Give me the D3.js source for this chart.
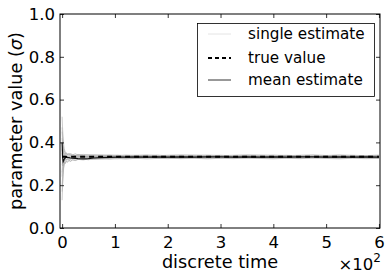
<!DOCTYPE html>
<html lang="en">
<head>
<meta charset="UTF-8">
<title>Parameter estimate</title>
<script src="https://d3js.org/d3.v7.min.js"></script>
<style>
  body { margin: 0; background: #fff; }
  text { font-family: "DejaVu Sans", sans-serif; fill: #000; }
</style>
</head>
<body>
<div id="chart"></div>
<script>
// time steps at which the estimates are read
const timeSteps = [0, 1, 2, 3, 4, 6, 8, 10, 13, 16, 20, 25, 30, 40, 50, 60, 75, 90, 105, 120,
  140, 160, 180, 200, 225, 250, 275, 300, 325, 350, 375, 400, 425, 450, 475, 500, 525, 550, 575, 600];

// single estimates (several runs)
const singleEstimates = [
  [0.52, 0.46, 0.42, 0.39, 0.37, 0.355, 0.348, 0.342, 0.346, 0.340, 0.338, 0.336, 0.341, 0.336, 0.333, 0.338, 0.331, 0.336, 0.334, 0.331,
   0.337, 0.333, 0.335, 0.332, 0.336, 0.334, 0.331, 0.335, 0.333, 0.337, 0.332, 0.334, 0.336, 0.331, 0.335, 0.333, 0.334, 0.332, 0.336, 0.333],
  [0.13, 0.20, 0.25, 0.28, 0.30, 0.31, 0.315, 0.320, 0.318, 0.322, 0.325, 0.323, 0.327, 0.326, 0.329, 0.327, 0.330, 0.328, 0.331, 0.329,
   0.330, 0.328, 0.332, 0.330, 0.328, 0.331, 0.330, 0.329, 0.332, 0.330, 0.328, 0.331, 0.330, 0.332, 0.329, 0.331, 0.330, 0.332, 0.329, 0.331],
  [0.47, 0.43, 0.40, 0.37, 0.36, 0.35, 0.34, 0.345, 0.338, 0.342, 0.336, 0.340, 0.335, 0.339, 0.336, 0.334, 0.338, 0.335, 0.337, 0.333,
   0.336, 0.338, 0.334, 0.337, 0.335, 0.333, 0.337, 0.336, 0.334, 0.338, 0.335, 0.333, 0.336, 0.338, 0.334, 0.336, 0.337, 0.334, 0.335, 0.337],
  [0.20, 0.24, 0.27, 0.29, 0.30, 0.305, 0.31, 0.308, 0.315, 0.312, 0.318, 0.316, 0.320, 0.322, 0.319, 0.324, 0.322, 0.326, 0.323, 0.327,
   0.325, 0.328, 0.326, 0.324, 0.328, 0.327, 0.325, 0.329, 0.326, 0.328, 0.327, 0.325, 0.328, 0.326, 0.329, 0.327, 0.325, 0.328, 0.327, 0.326],
  [0.42, 0.38, 0.36, 0.35, 0.345, 0.34, 0.348, 0.343, 0.350, 0.345, 0.342, 0.347, 0.341, 0.344, 0.340, 0.343, 0.339, 0.342, 0.338, 0.341,
   0.339, 0.342, 0.338, 0.340, 0.342, 0.339, 0.341, 0.338, 0.340, 0.342, 0.339, 0.341, 0.338, 0.340, 0.342, 0.339, 0.341, 0.340, 0.338, 0.341],
  [0.26, 0.28, 0.30, 0.31, 0.32, 0.315, 0.322, 0.318, 0.325, 0.321, 0.326, 0.322, 0.327, 0.324, 0.328, 0.325, 0.329, 0.326, 0.330, 0.327,
   0.329, 0.331, 0.328, 0.330, 0.327, 0.330, 0.332, 0.329, 0.331, 0.328, 0.330, 0.332, 0.329, 0.331, 0.328, 0.331, 0.329, 0.332, 0.330, 0.328],
  [0.37, 0.35, 0.34, 0.33, 0.34, 0.335, 0.33, 0.336, 0.331, 0.337, 0.333, 0.338, 0.334, 0.331, 0.336, 0.333, 0.337, 0.334, 0.332, 0.336,
   0.334, 0.331, 0.335, 0.333, 0.336, 0.332, 0.334, 0.337, 0.333, 0.335, 0.331, 0.334, 0.336, 0.333, 0.331, 0.335, 0.333, 0.336, 0.334, 0.332],
  [0.30, 0.29, 0.31, 0.32, 0.31, 0.325, 0.318, 0.327, 0.321, 0.329, 0.324, 0.330, 0.326, 0.332, 0.328, 0.331, 0.327, 0.333, 0.329, 0.332,
   0.330, 0.333, 0.331, 0.329, 0.333, 0.330, 0.332, 0.334, 0.330, 0.333, 0.331, 0.329, 0.333, 0.331, 0.334, 0.330, 0.332, 0.331, 0.333, 0.330],
  [0.45, 0.40, 0.37, 0.355, 0.35, 0.345, 0.352, 0.346, 0.341, 0.347, 0.343, 0.339, 0.344, 0.340, 0.343, 0.339, 0.342, 0.338, 0.341, 0.337,
   0.340, 0.338, 0.341, 0.337, 0.339, 0.341, 0.338, 0.340, 0.337, 0.339, 0.341, 0.338, 0.340, 0.337, 0.339, 0.338, 0.340, 0.337, 0.339, 0.338],
  [0.17, 0.22, 0.26, 0.29, 0.31, 0.30, 0.312, 0.308, 0.316, 0.312, 0.319, 0.315, 0.321, 0.318, 0.323, 0.320, 0.324, 0.321, 0.325, 0.322,
   0.326, 0.323, 0.325, 0.327, 0.324, 0.326, 0.323, 0.326, 0.324, 0.327, 0.325, 0.323, 0.326, 0.324, 0.327, 0.325, 0.323, 0.326, 0.324, 0.325],
  [0.35, 0.31, 0.29, 0.30, 0.32, 0.34, 0.33, 0.338, 0.329, 0.335, 0.327, 0.333, 0.339, 0.329, 0.335, 0.330, 0.336, 0.328, 0.334, 0.330,
   0.335, 0.329, 0.336, 0.331, 0.328, 0.335, 0.330, 0.336, 0.329, 0.334, 0.330, 0.336, 0.328, 0.334, 0.331, 0.336, 0.329, 0.335, 0.330, 0.334],
  [0.24, 0.33, 0.38, 0.36, 0.34, 0.32, 0.335, 0.325, 0.332, 0.326, 0.334, 0.328, 0.331, 0.337, 0.330, 0.326, 0.333, 0.338, 0.331, 0.327,
   0.333, 0.337, 0.330, 0.335, 0.329, 0.337, 0.331, 0.327, 0.334, 0.338, 0.330, 0.333, 0.337, 0.329, 0.335, 0.331, 0.337, 0.330, 0.334, 0.336]
];

const meanEstimate = [0.40, 0.33, 0.31, 0.315, 0.322, 0.328, 0.331, 0.330, 0.329, 0.327, 0.326, 0.325, 0.324, 0.323, 0.324, 0.327, 0.329, 0.330, 0.331, 0.331,
  0.332, 0.331, 0.332, 0.331, 0.332, 0.331, 0.332, 0.332, 0.331, 0.332, 0.331, 0.332, 0.331, 0.332, 0.332, 0.331, 0.332, 0.331, 0.332, 0.331];

const trueValue = 0.333;

const xTicks = [0, 100, 200, 300, 400, 500, 600];
const yTicks = [0.0, 0.2, 0.4, 0.6, 0.8, 1.0];
const legendLabels = ["single estimate", "true value", "mean estimate"];

const W = 391, H = 277;
const mLeft = 60, mRight = 380, mTop = 14, mBottom = 228;

const svg = d3.select("#chart").append("svg")
  .attr("width", W).attr("height", H);

const x = d3.scaleLinear().domain([-4, 602]).range([mLeft, mRight]);
const y = d3.scaleLinear().domain([0, 1]).range([mBottom, mTop]);

svg.append("clipPath").attr("id", "plotclip")
  .append("rect").attr("x", mLeft).attr("y", mTop)
  .attr("width", mRight - mLeft).attr("height", mBottom - mTop);

const plot = svg.append("g").attr("clip-path", "url(#plotclip)");

const line = d3.line()
  .x((d, i) => x(timeSteps[i]))
  .y(d => y(d));

plot.selectAll("path.single")
  .data(singleEstimates)
  .enter().append("path")
  .attr("class", "single")
  .attr("d", line)
  .attr("fill", "none")
  .attr("stroke", "#aaaaaa")
  .attr("stroke-opacity", 0.6)
  .attr("stroke-width", 1);

plot.append("path")
  .attr("d", line(meanEstimate))
  .attr("fill", "none")
  .attr("stroke", "#111")
  .attr("stroke-width", 1.2);

plot.append("path")
  .attr("d", line(timeSteps.map(() => trueValue)))
  .attr("fill", "none")
  .attr("stroke", "#000")
  .attr("stroke-width", 2)
  .attr("stroke-dasharray", "5,4");

// axes, ticks inward on all four sides
const tickLen = 4;
const axB = svg.append("g").attr("transform", `translate(0,${mBottom})`)
  .call(d3.axisBottom(x).tickValues(xTicks).tickSize(-tickLen).tickPadding(6)
    .tickFormat(d => d / 100));
const axT = svg.append("g").attr("transform", `translate(0,${mTop})`)
  .call(d3.axisTop(x).tickValues(xTicks).tickSize(-tickLen).tickFormat(""));
const axL = svg.append("g").attr("transform", `translate(${mLeft},0)`)
  .call(d3.axisLeft(y).tickValues(yTicks).tickSize(-tickLen).tickPadding(5)
    .tickFormat(d3.format(".1f")));
const axR = svg.append("g").attr("transform", `translate(${mRight},0)`)
  .call(d3.axisRight(y).tickValues(yTicks).tickSize(-tickLen).tickFormat(""));

[axB, axT, axL, axR].forEach(a => {
  a.select(".domain").remove();
  a.selectAll(".tick line").attr("stroke", "#000").attr("stroke-width", 0.8);
  a.selectAll("text").style("font-family", "DejaVu Sans").style("font-size", "16.5px");
});
axB.selectAll("text").attr("dy", "0.85em");

svg.append("rect").attr("x", mLeft).attr("y", mTop)
  .attr("width", mRight - mLeft).attr("height", mBottom - mTop)
  .attr("fill", "none").attr("stroke", "#000").attr("stroke-width", 1);

// axis labels
svg.append("text")
  .attr("x", (mLeft + mRight) / 2).attr("y", 268)
  .attr("text-anchor", "middle")
  .style("font-size", "17.7px")
  .text("discrete time");

const ylab = svg.append("text")
  .attr("transform", `translate(22,${(mTop + mBottom) / 2}) rotate(-90)`)
  .attr("text-anchor", "middle")
  .style("font-size", "17.7px");
ylab.append("tspan").text("parameter value (");
ylab.append("tspan").style("font-style", "italic").text("σ");
ylab.append("tspan").text(")");

const mult = svg.append("text")
  .attr("x", 381).attr("y", 270)
  .attr("text-anchor", "end")
  .style("font-size", "16.5px");
mult.append("tspan").text("×10");
mult.append("tspan").attr("dy", -8).style("font-size", "12px").text("2");

// legend
const lg = svg.append("g");
lg.append("rect").attr("x", 197.5).attr("y", 23.5).attr("width", 177).attr("height", 73)
  .attr("fill", "#fff").attr("stroke", "#000").attr("stroke-width", 0.8);
const rows = [
  { y: 34, stroke: "#e4e4e4", w: 1, dash: null },
  { y: 58, stroke: "#000", w: 2, dash: "4,3" },
  { y: 80, stroke: "#333", w: 1, dash: null }
];
rows.forEach((r, i) => {
  lg.append("line").attr("x1", 208).attr("x2", 231).attr("y1", r.y).attr("y2", r.y)
    .attr("stroke", r.stroke).attr("stroke-width", r.w)
    .attr("stroke-dasharray", r.dash);
  lg.append("text").attr("x", 248).attr("y", r.y).attr("dy", "0.35em")
    .style("font-size", "15.2px").text(legendLabels[i]);
});
</script>
</body>
</html>
